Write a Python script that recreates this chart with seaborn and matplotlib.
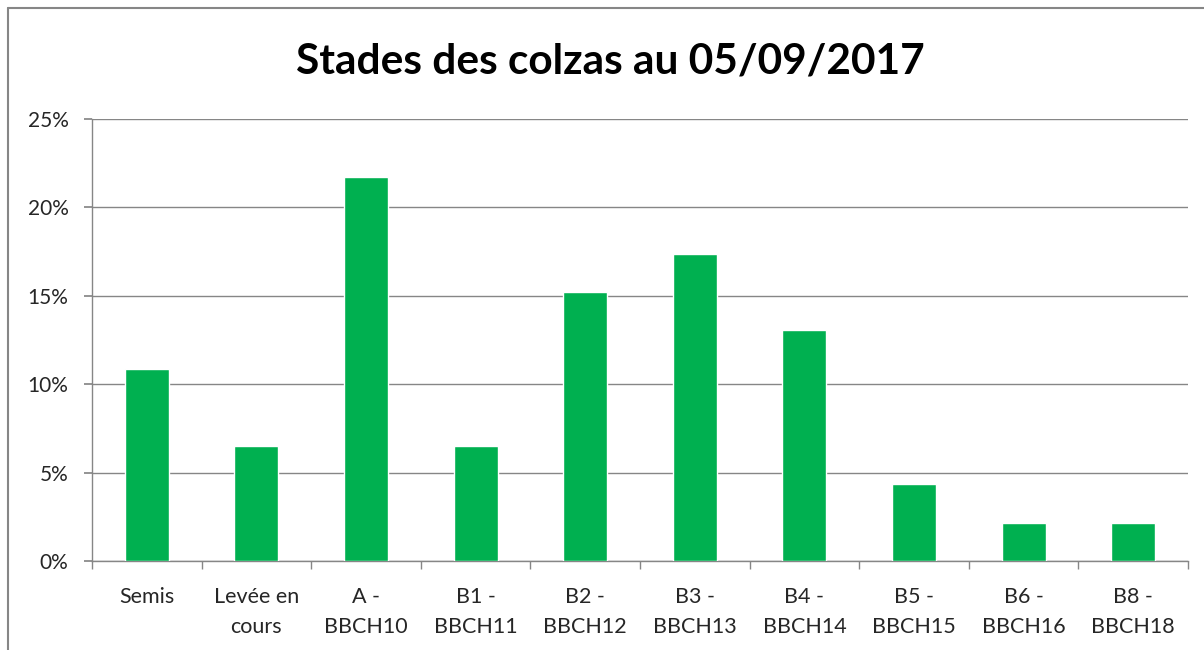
import matplotlib
matplotlib.use("Agg")
import matplotlib.pyplot as plt
import seaborn as sns
import pandas as pd
from matplotlib.lines import Line2D
from matplotlib.ticker import FuncFormatter, MultipleLocator, FixedLocator

categories = ["Semis", "Levée en\ncours", "A -\nBBCH10", "B1 -\nBBCH11", "B2 -\nBBCH12",
              "B3 -\nBBCH13", "B4 -\nBBCH14", "B5 -\nBBCH15", "B6 -\nBBCH16", "B8 -\nBBCH18"]
values = [10.87, 6.52, 21.74, 6.52, 15.22, 17.39, 13.04, 4.35, 2.17, 2.17]
title = "Stades des colzas au 05/09/2017"

sns.set_theme(style="white")
plt.rcParams['font.family'] = ['Lato', 'DejaVu Sans']

fig = plt.figure(figsize=(12.04, 6.5), dpi=100)
ax = fig.add_axes([92/1204, 1-561/650, (1188-92)/1204, (561-119)/650])

df = pd.DataFrame({"stade": categories, "pct": values})
sns.barplot(data=df, x="stade", y="pct", color="#00B050", width=0.4,
            saturation=1, ax=ax, zorder=3)

ax.set_ylim(0, 25)
ax.set_xlim(-0.5, len(categories) - 0.5)
ax.yaxis.set_major_locator(MultipleLocator(5))
ax.yaxis.set_major_formatter(FuncFormatter(lambda v, p: f"{int(v)}%"))
ax.grid(axis="y", color="#868686", linewidth=1, zorder=0)
ax.set_axisbelow(True)
ax.set_xlabel("")
ax.set_ylabel("")

for s in ["top", "right"]:
    ax.spines[s].set_visible(False)
for s in ["left", "bottom"]:
    ax.spines[s].set_color("#868686")
    ax.spines[s].set_linewidth(1)

ax.tick_params(axis="y", which="major", length=6, color="#868686", labelsize=15,
               labelcolor="#262626", pad=11, left=True, direction="out")
ax.tick_params(axis="x", which="major", length=0, labelsize=15.5, labelcolor="#262626", pad=18.5)
ax.xaxis.set_minor_locator(FixedLocator([i - 0.5 for i in range(len(categories) + 1)]))
ax.tick_params(axis="x", which="minor", length=6, color="#868686", bottom=True, direction="out")
for lab in ax.get_xticklabels():
    lab.set_linespacing(1.65)
    lab.set_horizontalalignment("center")

fig.text(610/1204, 1-62/650, title, ha="center", va="center", fontsize=30.5,
         fontweight="bold", color="black")

fig.add_artist(Line2D([8/1204, 8/1204], [0, 1-8/650], color="#868686", linewidth=1.5,
                      transform=fig.transFigure))
fig.add_artist(Line2D([8/1204, 1], [1-8/650, 1-8/650], color="#868686", linewidth=1.5,
                      transform=fig.transFigure))

fig.savefig("out.png", dpi=100, facecolor="white")
